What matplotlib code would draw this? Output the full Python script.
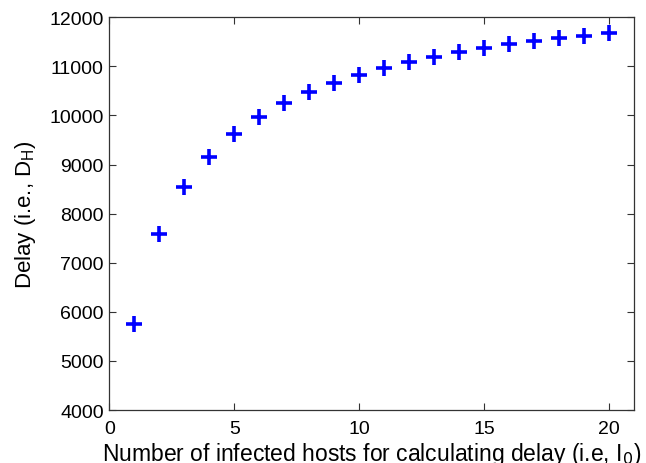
import matplotlib
matplotlib.use("Agg")
import matplotlib.pyplot as plt

hosts = list(range(1, 21))
delay = [5751, 7578, 8542, 9153, 9621, 9974, 10246, 10477, 10666, 10823,
         10970, 11094, 11183, 11298, 11379, 11447, 11515, 11570, 11623, 11684]
yticks = [4000, 5000, 6000, 7000, 8000, 9000, 10000, 11000, 12000]
xticks = [0, 5, 10, 15, 20]

plt.rcParams['font.family'] = ['Liberation Sans', 'DejaVu Sans']
fig = plt.figure(figsize=(6.46, 4.64), dpi=100)
ax = fig.add_axes([0.1692, 0.1142, 0.982 - 0.1692, 0.9606 - 0.1142])
ax.plot(hosts, delay, linestyle='none', marker='+', color='#0000ff',
        markersize=12, markeredgewidth=2.6)
ax.set_xlim(0, 21)
ax.set_ylim(4000, 12000)
ax.set_xticks(xticks)
ax.set_yticks(yticks)
ax.tick_params(direction='in', top=True, right=True, length=5, width=0.8,
               labelsize=14, colors='#333333', labelcolor='black')
ax.tick_params(axis='x', pad=7)
ax.tick_params(axis='y', pad=4)
for s in ax.spines.values():
    s.set_color('#333333')
    s.set_linewidth(0.9)
ax.set_xlabel('Number of infected hosts for calculating delay (i.e, I$_0$)', fontsize=16.5, labelpad=2)
ax.set_ylabel('Delay (i.e., D$_\\mathregular{H}$)', fontsize=16, labelpad=8)
fig.savefig('out.png', dpi=100)
